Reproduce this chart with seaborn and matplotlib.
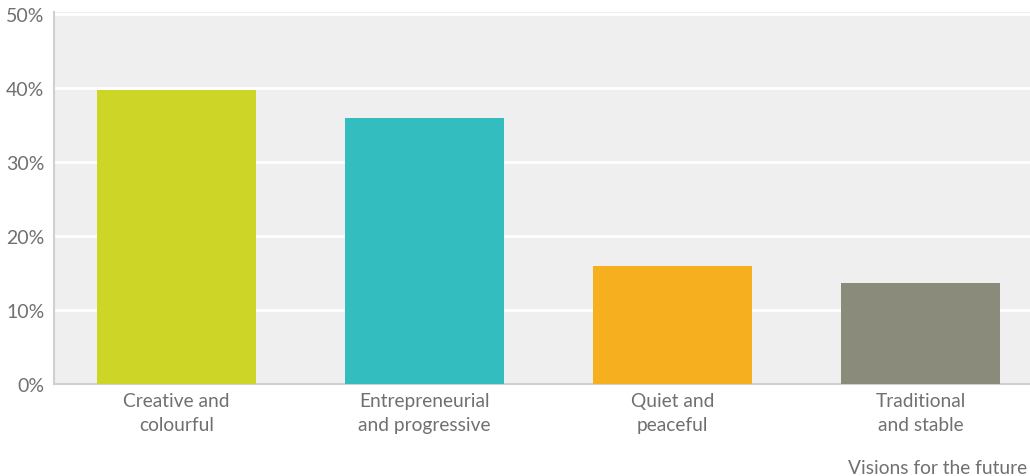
import matplotlib
matplotlib.use("Agg")
import matplotlib.pyplot as plt
import seaborn as sns
import pandas as pd
from matplotlib.ticker import FuncFormatter

categories = ["Creative and\ncolourful", "Entrepreneurial\nand progressive", "Quiet and\npeaceful", "Traditional\nand stable"]
values = [39.7, 36.0, 16.0, 13.6]
colors = ["#CDD527", "#33BDBF", "#F6B01F", "#8A8B7B"]
yticks = [0, 10, 20, 30, 40, 50]
axis_title = "Visions for the future"

sns.set_theme(style="white")
plt.rcParams['font.family'] = ['Lato', 'DejaVu Sans']

df = pd.DataFrame({"cat": categories, "val": values})

fig = plt.figure(figsize=(10.30, 4.77), dpi=100)
ax = fig.add_axes([54/1030, 92/477, 1 - 54/1030, 372/477])
ax.set_facecolor("#EFEFEF")

sns.barplot(data=df, x="cat", y="val", hue="cat", palette=colors, width=0.64,
            legend=False, ax=ax, zorder=3, saturation=1, linewidth=0)

ax.set_xlim(-0.494, 3.44)
ax.set_ylim(0, 50.3)
ax.set_yticks(yticks)
ax.yaxis.set_major_formatter(FuncFormatter(lambda v, p: f"{int(v)}%"))
ax.grid(axis="y", color="white", linewidth=2, zorder=0)
ax.set_axisbelow(True)
ax.set_xlabel("")
ax.set_ylabel("")

for s in ["top", "right"]:
    ax.spines[s].set_visible(False)
for s in ["left", "bottom"]:
    ax.spines[s].set_color("#D0D0D0")
    ax.spines[s].set_linewidth(1.5)

txt_color = "#707070"
ax.tick_params(axis="y", length=0, pad=7, labelsize=14, labelcolor=txt_color)
ax.tick_params(axis="x", length=0, pad=6, labelsize=13.8, labelcolor=txt_color)
for lbl in ax.get_xticklabels():
    lbl.set_linespacing(1.45)

fig.text(1027/1030, 1 - 469/477, axis_title, ha="right", va="center",
         fontsize=13.8, color=txt_color)

fig.savefig("out.png", dpi=100, facecolor="white")
